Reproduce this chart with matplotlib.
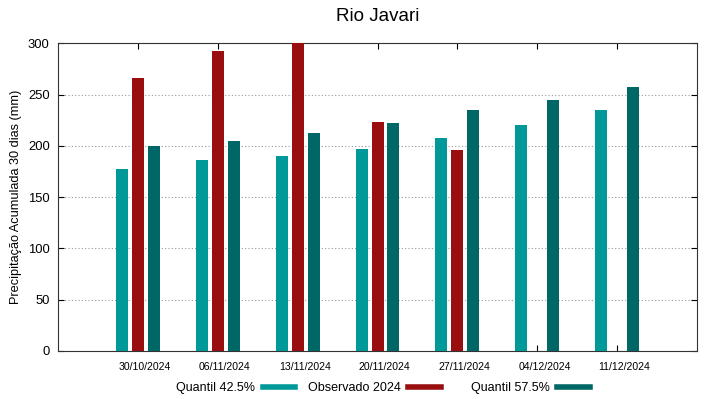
import numpy as np
import matplotlib
matplotlib.use("Agg")
from matplotlib import pyplot as plt
from matplotlib.lines import Line2D

datas = ["30/10/2024", "06/11/2024", "13/11/2024", "20/11/2024",
         "27/11/2024", "04/12/2024", "11/12/2024"]
quantil_425 = [177, 186, 190, 197, 208, 220, 235]
observado = [266, 293, 301, 223, 196, np.nan, np.nan]
quantil_575 = [200, 205, 213, 222, 235, 245, 258]

series_labels = ["Quantil 42.5%", "Observado 2024", "Quantil 57.5%"]
c_q425 = "#009999"
c_obs = "#990f0f"
c_q575 = "#006666"

plt.rcParams['font.family'] = ['Liberation Sans', 'DejaVu Sans']

fig = plt.figure(figsize=(7.19, 3.99), dpi=100)
ax = fig.add_axes([0.0807, 0.121, 0.8887, 0.770])

x = np.arange(len(datas))
w = 0.15
ax.bar(x - 0.2, quantil_425, w, color=c_q425, zorder=3)
ax.bar(x, observado, w, color=c_obs, zorder=3)
ax.bar(x + 0.2, quantil_575, w, color=c_q575, zorder=3)

ax.set_xlim(-1, 7)
ax.set_ylim(0, 300)
# tick marks on the groups, date labels sit a little to the right (gnuplot style)
ax.set_xticks(x, labels=[])
ax.set_xticks(x + 0.09, labels=datas, minor=True, fontsize=7.6)
ax.tick_params(axis='x', which='major', direction='in', top=True, length=4)
ax.tick_params(axis='x', which='minor', length=0, pad=8)
ax.set_yticks(range(0, 301, 50))
ax.tick_params(axis='y', labelsize=9.4, direction='in', right=True, length=4, pad=6)
for s in ax.spines.values():
    s.set_color("#333333")
ax.yaxis.grid(True, linestyle=(0, (1, 2)), color="#999999", linewidth=0.8, zorder=0)

ax.set_ylabel("Precipitação Acumulada 30 dias (mm)", fontsize=9.2)
ax.set_title("Rio Javari", fontsize=13.5, pad=16)

# legend in fixed-width columns, like gnuplot
starts = [176, 308, 471]
for lbl, c, x0 in zip(series_labels, (c_q425, c_obs, c_q575), starts):
    fig.legend([Line2D([], [], color=c, linewidth=4)], [lbl],
               loc="center left", bbox_to_anchor=(x0 / 719, 1 - 388 / 399),
               frameon=False, markerfirst=False, fontsize=9,
               handlelength=2.6, handletextpad=0.6,
               borderpad=0, borderaxespad=0)

fig.savefig("out.png", dpi=100)
